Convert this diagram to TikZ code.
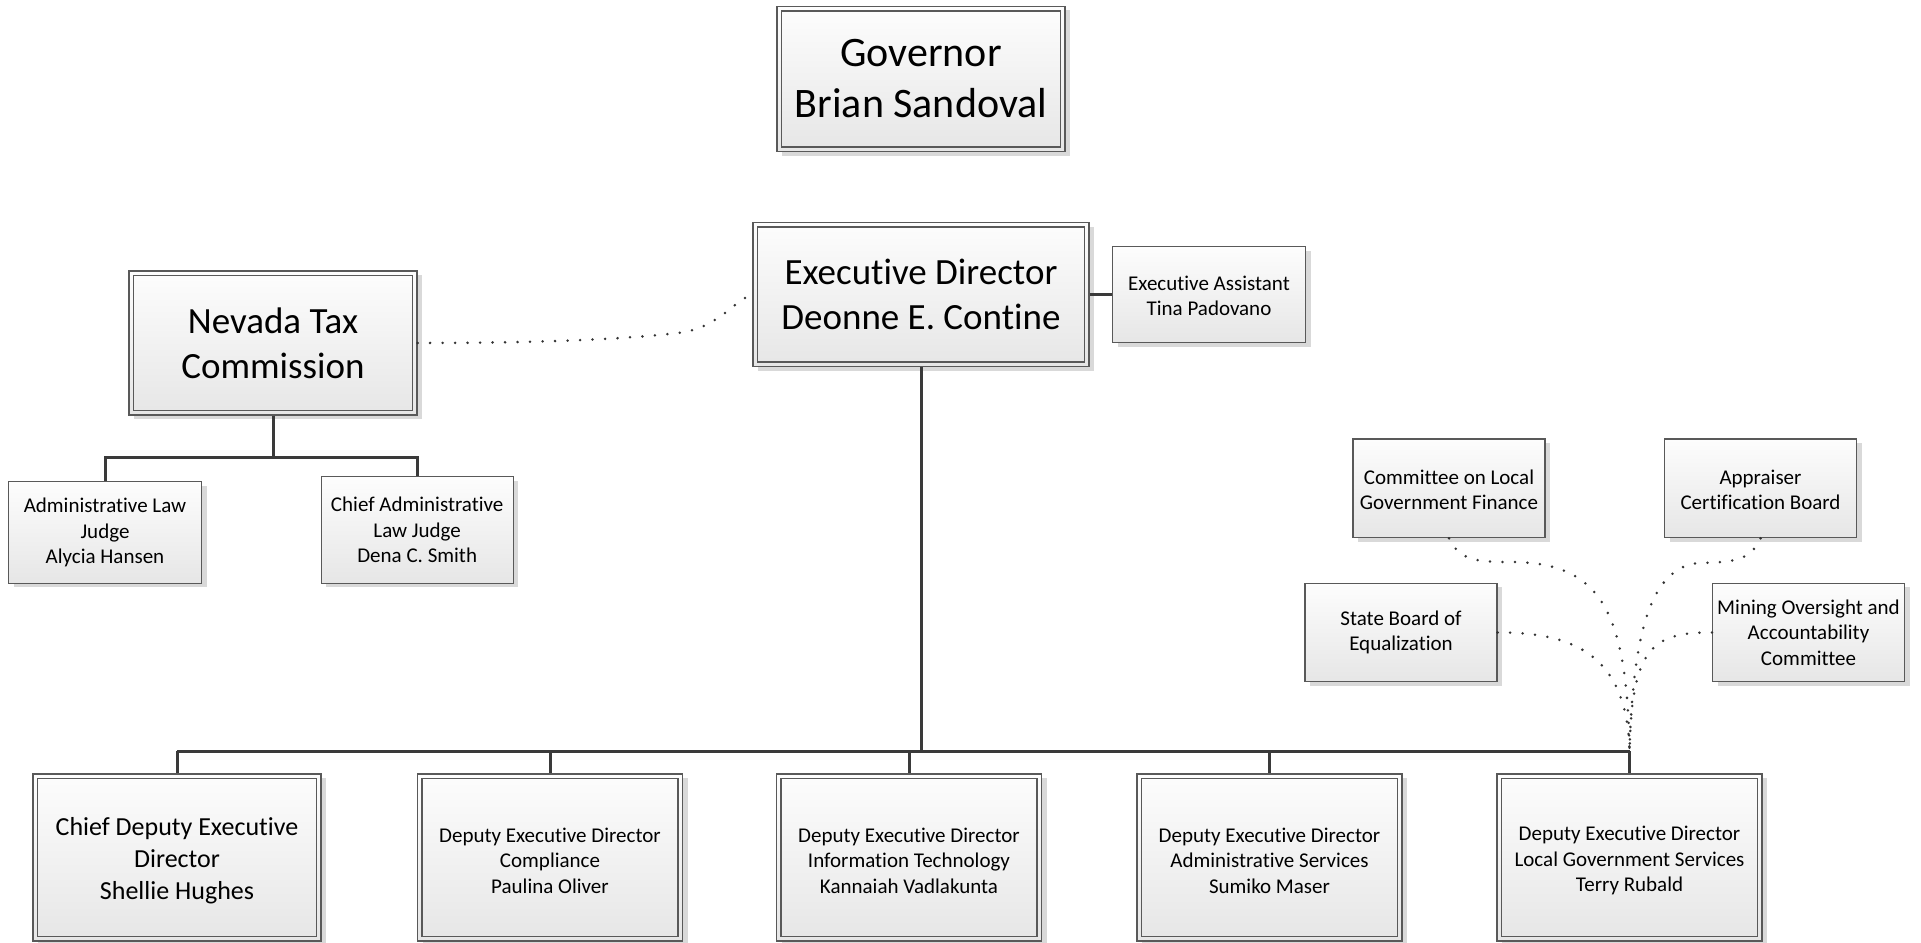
\documentclass[tikz,border=0pt]{standalone}
\usepackage{fontspec}
\setmainfont{Carlito}[RawFeature={-liga;-clig;-dlig}]
\usetikzlibrary{shadows}
\definecolor{bordc}{HTML}{595959}
\definecolor{linec}{HTML}{3A3A3A}
\definecolor{dotc}{HTML}{333333}
\definecolor{shadc}{HTML}{D9D9D9}
\definecolor{boxtop}{HTML}{FDFDFD}
\definecolor{boxbot}{HTML}{E6E6E6}
\newcommand{\myfgov}{\fontsize{42}{51}\selectfont}
\newcommand{\myfbig}{\fontsize{37}{45}\selectfont}
\newcommand{\myfmid}{\fontsize{26}{32}\selectfont}
\newcommand{\myfsmall}{\fontsize{21}{25.6}\selectfont}
\newcommand{\mylow}[1]{\rule{0pt}{#1}}
\tikzset{
  box/.style={draw=bordc, line width=1.2pt, top color=boxtop, bottom color=boxbot,
    drop shadow={shadow xshift=5pt, shadow yshift=-4pt, fill=shadc, opacity=1},
    align=center, inner sep=0pt, font=\myfsmall, text=black},
  dbox/.style={box, path picture={\draw[bordc, line width=1.2pt]
    ([shift={(4.5pt,-4.5pt)}]path picture bounding box.north west) rectangle
    ([shift={(-4.5pt,4.5pt)}]path picture bounding box.south east);}},
  conn/.style={draw=linec, line width=3pt},
  dots/.style={draw=dotc, line width=2.8pt, line cap=round, dash pattern=on 0pt off 12.5pt},
}
\begin{document}
\begin{tikzpicture}[x=1pt,y=-1pt]
\useasboundingbox (0,0) rectangle (1921,942);
\fill[white] (0,0) rectangle (1921,942);
\coordinate (bus) at (0,751);
\coordinate (ntcbus) at (0,457);

\node[dbox, minimum width=288pt, minimum height=145pt, font=\myfgov] (gov) at (921,79) {Governor\\Brian Sandoval};
\node[dbox, minimum width=336pt, minimum height=144pt, font=\myfbig] (ed) at (921,294.5) {Executive Director\\Deonne E. Contine};
\node[box, minimum width=193pt, minimum height=96pt] (ea) at (1209,294.5) {\mylow{17pt}Executive Assistant\\Tina Padovano};
\node[dbox, minimum width=288pt, minimum height=144pt, font=\myfbig] (ntc) at (273,343) {Nevada Tax\\Commission};
\node[box, minimum width=193pt, minimum height=101.6pt] (alj) at (105,532.5) {Administrative Law\\Judge\\Alycia Hansen};
\node[box, minimum width=192pt, minimum height=106.6pt] (calj) at (417.2,530) {Chief Administrative\\Law Judge\\Dena C. Smith};

\node[box, minimum width=192pt, minimum height=98.7pt] (colgf) at (1449,488.4) {\mylow{17pt}Committee on Local\\Government Finance};
\node[box, minimum width=192pt, minimum height=98.7pt] (acb) at (1760.5,488.4) {\mylow{17pt}Appraiser\\Certification Board};
\node[box, minimum width=192pt, minimum height=98.4pt] (sbe) at (1401,632.5) {State Board of\\Equalization};
\node[box, minimum width=192pt, minimum height=98.4pt] (moac) at (1808.5,632.5) {Mining Oversight and\\Accountability\\Committee};

\node[dbox, minimum width=288pt, minimum height=167pt, font=\myfmid] (b1) at (177,857.5) {\mylow{25pt}Chief Deputy Executive\\Director\\Shellie Hughes};
\node[dbox, minimum width=265pt, minimum height=167pt] (b2) at (550,857.5) {\mylow{21pt}Deputy Executive Director\\Compliance\\Paulina Oliver};
\node[dbox, minimum width=265pt, minimum height=167pt] (b3) at (909,857.5) {\mylow{21pt}Deputy Executive Director\\Information Technology\\Kannaiah Vadlakunta};
\node[dbox, minimum width=265pt, minimum height=167pt] (b4) at (1269.5,857.5) {\mylow{21pt}Deputy Executive Director\\Administrative Services\\Sumiko Maser};
\node[dbox, minimum width=265pt, minimum height=167pt] (b5) at (1629.5,857.5) {\mylow{21pt}Deputy Executive Director\\Local Government Services\\Terry Rubald};

% solid connectors
\draw[conn] (ed.east) -- (ea.west);
\draw[conn] (ed.south) -- (ed.south |- bus);
\draw[conn] (b1.north |- bus) -- (b5.north |- bus);
\foreach \b in {b1,b2,b3,b4,b5} \draw[conn] (\b.north |- bus) -- (\b.north);
\draw[conn] (ntc.south) -- (ntc.south |- ntcbus);
\draw[conn] (alj.north) -- (alj.north |- ntcbus) -- (calj.north |- ntcbus) -- (calj.north);

% dotted connectors
\coordinate (lgsjoin) at (b5.north |- bus);
\draw[dots] (ntc.east) .. controls (560,343) and (640,338) .. (685,332) .. controls (720,325) and (735,300) .. (ed.west);
\draw[dots] (colgf.south) .. controls (1460,562) and (1480,562) .. (1515,562) .. controls (1600,564) and (1627,610) .. (lgsjoin);
\draw[dots] (acb.south) .. controls (1750,562) and (1730,562) .. (1700,563) .. controls (1650,566) and (1633,635) .. (lgsjoin);
\draw[dots] (sbe.east) .. controls (1580,632) and (1627,660) .. (lgsjoin);
\draw[dots] (moac.west) .. controls (1650,632) and (1632,650) .. (lgsjoin);
\end{tikzpicture}
\end{document}
